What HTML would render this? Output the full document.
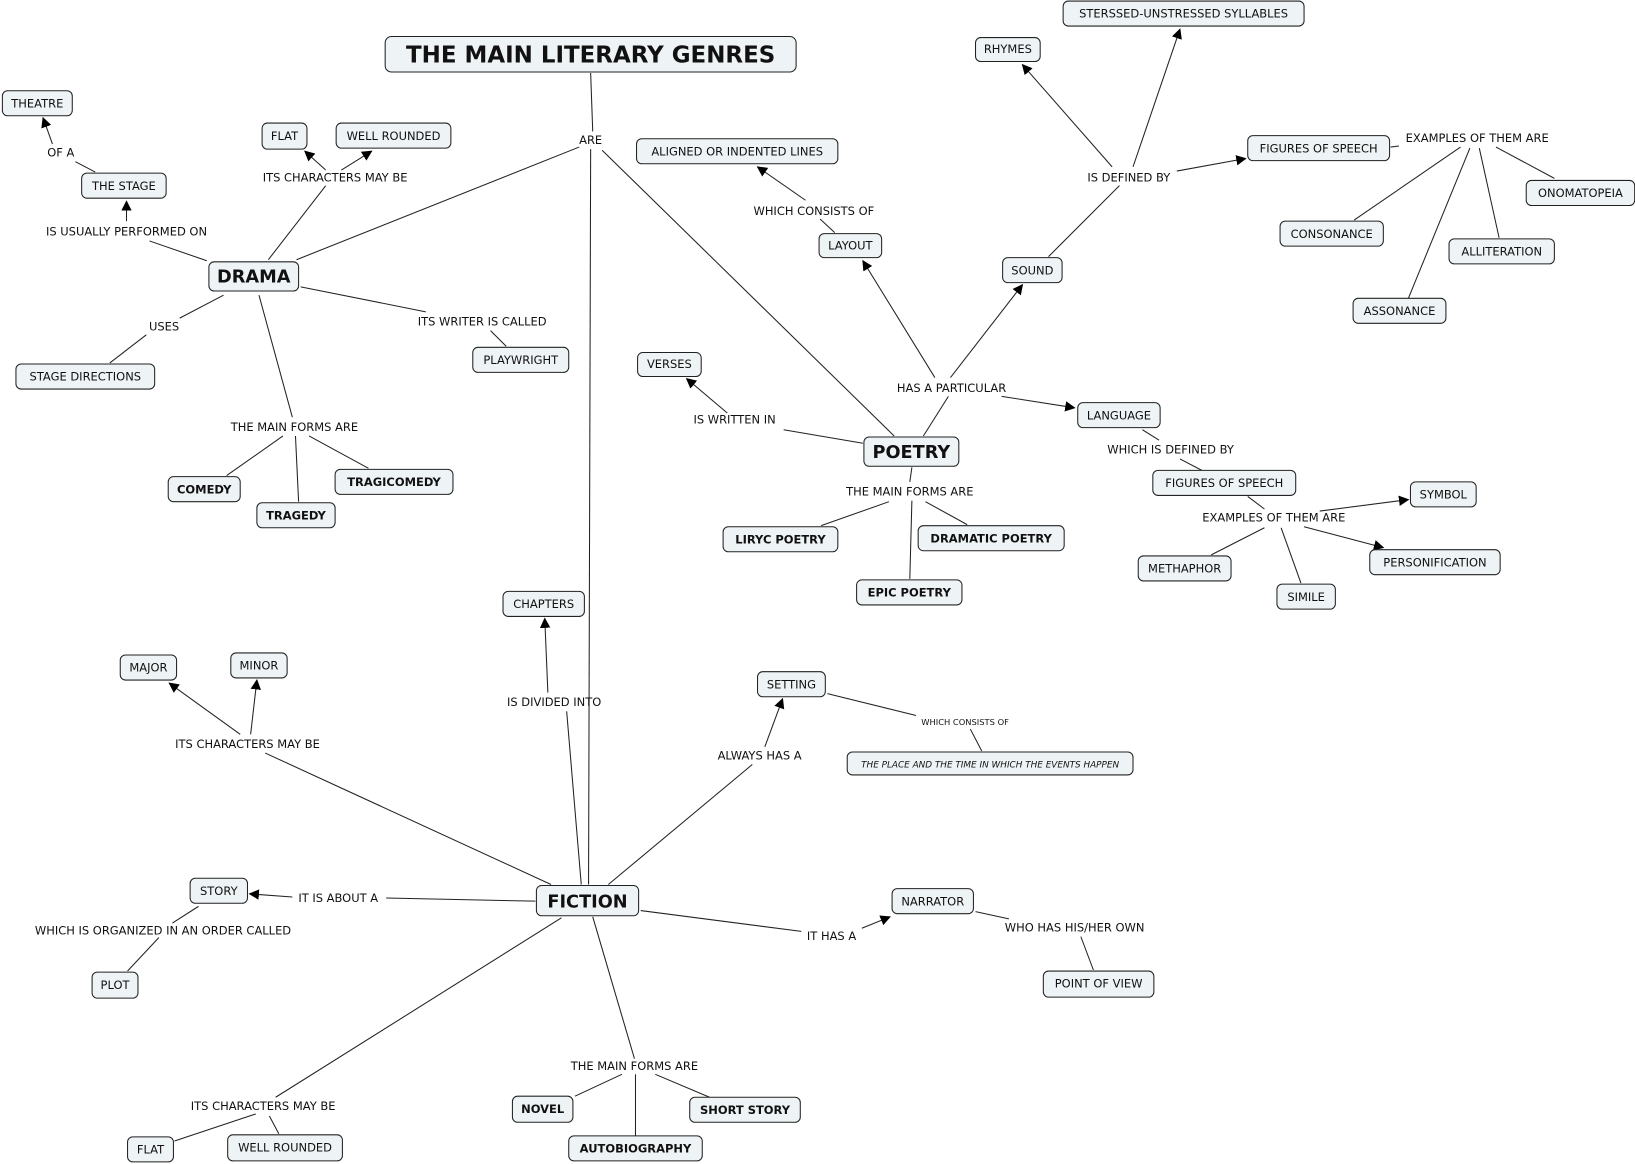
<!DOCTYPE html>
<html><head><meta charset="utf-8"><style>
html,body{margin:0;padding:0;background:#fff;}
svg{display:block;}
text{font-family:"DejaVu Sans","Liberation Sans",sans-serif;font-size:11px;fill:#111;}
.b{font-weight:bold;}
rect{fill:#eef3f5;stroke:#222;stroke-width:1;}
line{stroke:#222;stroke-width:1;}
.a{marker-end:url(#ar);}
</style></head><body>
<svg width="1635" height="1164" viewBox="0 0 1567 1116" xmlns="http://www.w3.org/2000/svg">
<defs><marker id="ar" markerWidth="10" markerHeight="10" refX="9" refY="5" orient="auto" markerUnits="userSpaceOnUse"><path d="M0,0 L10,5 L0,10 z" fill="#000"/></marker></defs>
<g>
<line x1="566" y1="70" x2="568" y2="126"/>
<line x1="555" y1="141" x2="284" y2="249"/>
<line x1="566" y1="143" x2="564" y2="848"/>
<line x1="577" y1="144" x2="857" y2="418"/>
<line x1="198" y1="250" x2="143" y2="231"/>
<line class="a" x1="121" y1="212" x2="121" y2="193"/>
<line x1="91" y1="165" x2="72" y2="155"/>
<line class="a" x1="50" y1="138" x2="41" y2="113"/>
<line x1="257" y1="249" x2="312" y2="178"/>
<line class="a" x1="312" y1="163" x2="292" y2="145"/>
<line class="a" x1="327" y1="163" x2="356" y2="145"/>
<line x1="214" y1="283" x2="172" y2="305"/>
<line x1="140" y1="321" x2="105" y2="348"/>
<line x1="288" y1="275" x2="408" y2="299"/>
<line x1="470" y1="317" x2="485" y2="332"/>
<line x1="248" y1="283" x2="280" y2="400"/>
<line x1="271" y1="418" x2="217" y2="456"/>
<line x1="283" y1="418" x2="286" y2="481"/>
<line x1="296" y1="418" x2="353" y2="449"/>
<line x1="885" y1="418" x2="909" y2="380"/>
<line class="a" x1="896" y1="362" x2="827" y2="250"/>
<line class="a" x1="911" y1="362" x2="980" y2="273"/>
<line class="a" x1="960" y1="380" x2="1030" y2="391"/>
<line x1="800" y1="223" x2="786" y2="210"/>
<line class="a" x1="772" y1="192" x2="726" y2="160"/>
<line x1="1005" y1="246" x2="1073" y2="178"/>
<line class="a" x1="1086" y1="160" x2="1131" y2="28"/>
<line class="a" x1="1066" y1="160" x2="980" y2="62"/>
<line class="a" x1="1128" y1="164" x2="1194" y2="152"/>
<line x1="1333" y1="141" x2="1341" y2="140"/>
<line x1="1400" y1="141" x2="1298" y2="211"/>
<line x1="1409" y1="142" x2="1350" y2="286"/>
<line x1="1418" y1="142" x2="1437" y2="228"/>
<line x1="1434" y1="141" x2="1490" y2="171"/>
<line x1="827" y1="425" x2="751" y2="412"/>
<line class="a" x1="697" y1="396" x2="658" y2="363"/>
<line x1="874" y1="448" x2="872" y2="462"/>
<line x1="852" y1="481" x2="787" y2="504"/>
<line x1="874" y1="480" x2="872" y2="555"/>
<line x1="887" y1="481" x2="927" y2="503"/>
<line x1="1095" y1="412" x2="1111" y2="422"/>
<line x1="1131" y1="440" x2="1152" y2="451"/>
<line x1="1196" y1="476" x2="1212" y2="488"/>
<line x1="1212" y1="506" x2="1161" y2="532"/>
<line x1="1228" y1="506" x2="1247" y2="559"/>
<line class="a" x1="1250" y1="505" x2="1326" y2="525"/>
<line class="a" x1="1265" y1="490" x2="1350" y2="479"/>
<line x1="557" y1="848" x2="543" y2="682"/>
<line class="a" x1="525" y1="664" x2="522" y2="593"/>
<line x1="528" y1="848" x2="254" y2="722"/>
<line class="a" x1="230" y1="704" x2="162" y2="655"/>
<line class="a" x1="240" y1="704" x2="246" y2="652"/>
<line x1="583" y1="848" x2="721" y2="733"/>
<line class="a" x1="733" y1="716" x2="750" y2="670"/>
<line x1="793" y1="665" x2="878" y2="686"/>
<line x1="930" y1="699" x2="941" y2="720"/>
<line x1="513" y1="864" x2="370" y2="861"/>
<line class="a" x1="280" y1="860" x2="239" y2="857"/>
<line x1="190" y1="869" x2="165" y2="885"/>
<line x1="152" y1="899" x2="122" y2="931"/>
<line x1="614" y1="873" x2="768" y2="893"/>
<line class="a" x1="826" y1="890" x2="853" y2="879"/>
<line x1="935" y1="874" x2="967" y2="881"/>
<line x1="1036" y1="898" x2="1048" y2="930"/>
<line x1="568" y1="879" x2="608" y2="1015"/>
<line x1="596" y1="1030" x2="551" y2="1051"/>
<line x1="609" y1="1030" x2="609" y2="1089"/>
<line x1="628" y1="1030" x2="680" y2="1052"/>
<line x1="538" y1="880" x2="264" y2="1052"/>
<line x1="245" y1="1068" x2="167" y2="1094"/>
<line x1="258" y1="1070" x2="267" y2="1087"/>
</g>
<g text-anchor="middle">
<text x="566" y="138">ARE</text>
<text x="58" y="150">OF A</text>
<text x="321" y="174">ITS CHARACTERS MAY BE</text>
<text x="121" y="226">IS USUALLY PERFORMED ON</text>
<text x="157" y="317">USES</text>
<text x="462" y="312">ITS WRITER IS CALLED</text>
<text x="282" y="413">THE MAIN FORMS ARE</text>
<text x="1082" y="174">IS DEFINED BY</text>
<text x="1416" y="136">EXAMPLES OF THEM ARE</text>
<text x="780" y="206">WHICH CONSISTS OF</text>
<text x="912" y="376">HAS A PARTICULAR</text>
<text x="704" y="406">IS WRITTEN IN</text>
<text x="1122" y="435">WHICH IS DEFINED BY</text>
<text x="872" y="475">THE MAIN FORMS ARE</text>
<text x="1221" y="500">EXAMPLES OF THEM ARE</text>
<text x="531" y="677">IS DIVIDED INTO</text>
<text x="237" y="717">ITS CHARACTERS MAY BE</text>
<text x="728" y="728">ALWAYS HAS A</text>
<text x="925" y="695" style="font-size:8px">WHICH CONSISTS OF</text>
<text x="324" y="865">IT IS ABOUT A</text>
<text x="156" y="896">WHICH IS ORGANIZED IN AN ORDER CALLED</text>
<text x="797" y="901">IT HAS A</text>
<text x="1030" y="893">WHO HAS HIS/HER OWN</text>
<text x="608" y="1026">THE MAIN FORMS ARE</text>
<text x="252" y="1064">ITS CHARACTERS MAY BE</text>
</g>
<g text-anchor="middle">
<rect x="369" y="35" width="394" height="34" rx="6"/><text x="566" y="60" class="b" style="font-size:22px">THE MAIN LITERARY GENRES</text>
<rect x="2" y="87" width="67" height="24" rx="5"/><text x="35.5" y="103">THEATRE</text>
<rect x="251" y="118" width="43" height="25" rx="5"/><text x="272.5" y="134">FLAT</text>
<rect x="322" y="118" width="110" height="24" rx="5"/><text x="377" y="134">WELL ROUNDED</text>
<rect x="78" y="166" width="81" height="24" rx="5"/><text x="118.5" y="182">THE STAGE</text>
<rect x="200" y="251" width="86" height="28" rx="5"/><text x="243" y="271" class="b" style="font-size:17px">DRAMA</text>
<rect x="15" y="349" width="133" height="24" rx="5"/><text x="81.5" y="365">STAGE DIRECTIONS</text>
<rect x="453" y="333" width="92" height="24" rx="5"/><text x="499" y="349">PLAYWRIGHT</text>
<rect x="161" y="457" width="69" height="24" rx="5"/><text x="195.5" y="473" class="b">COMEDY</text>
<rect x="246" y="482" width="75" height="24" rx="5"/><text x="283.5" y="498" class="b">TRAGEDY</text>
<rect x="321" y="450" width="113" height="24" rx="5"/><text x="377.5" y="466" class="b">TRAGICOMEDY</text>
<rect x="935" y="36" width="62" height="23" rx="5"/><text x="966" y="51">RHYMES</text>
<rect x="1019" y="1" width="231" height="24" rx="5"/><text x="1134.5" y="17">STERSSED-UNSTRESSED SYLLABLES</text>
<rect x="610" y="133" width="193" height="24" rx="5"/><text x="706.5" y="149">ALIGNED OR INDENTED LINES</text>
<rect x="1196" y="130" width="136" height="24" rx="5"/><text x="1264" y="146">FIGURES OF SPEECH</text>
<rect x="1463" y="173" width="104" height="24" rx="5"/><text x="1515" y="189">ONOMATOPEIA</text>
<rect x="1227" y="212" width="99" height="24" rx="5"/><text x="1276.5" y="228">CONSONANCE</text>
<rect x="1389" y="229" width="101" height="24" rx="5"/><text x="1439.5" y="245">ALLITERATION</text>
<rect x="1297" y="286" width="89" height="24" rx="5"/><text x="1341.5" y="302">ASSONANCE</text>
<rect x="785" y="224" width="60" height="23" rx="5"/><text x="815" y="239">LAYOUT</text>
<rect x="961" y="247" width="57" height="24" rx="5"/><text x="989.5" y="263">SOUND</text>
<rect x="611" y="338" width="61" height="23" rx="5"/><text x="641.5" y="353">VERSES</text>
<rect x="1033" y="386" width="79" height="24" rx="5"/><text x="1072.5" y="402">LANGUAGE</text>
<rect x="828" y="419" width="91" height="28" rx="5"/><text x="873.5" y="439" class="b" style="font-size:17px">POETRY</text>
<rect x="1105" y="451" width="137" height="24" rx="5"/><text x="1173.5" y="467">FIGURES OF SPEECH</text>
<rect x="1352" y="462" width="63" height="24" rx="5"/><text x="1383.5" y="478">SYMBOL</text>
<rect x="693" y="505" width="110" height="24" rx="5"/><text x="748" y="521" class="b">LIRYC POETRY</text>
<rect x="880" y="504" width="140" height="24" rx="5"/><text x="950" y="520" class="b">DRAMATIC POETRY</text>
<rect x="1091" y="533" width="89" height="24" rx="5"/><text x="1135.5" y="549">METHAPHOR</text>
<rect x="1313" y="527" width="125" height="24" rx="5"/><text x="1375.5" y="543">PERSONIFICATION</text>
<rect x="1224" y="560" width="56" height="24" rx="5"/><text x="1252" y="576">SIMILE</text>
<rect x="821" y="556" width="101" height="24" rx="5"/><text x="871.5" y="572" class="b">EPIC POETRY</text>
<rect x="482" y="567" width="78" height="24" rx="5"/><text x="521" y="583">CHAPTERS</text>
<rect x="115" y="628" width="54" height="24" rx="5"/><text x="142" y="644">MAJOR</text>
<rect x="221" y="626" width="54" height="24" rx="5"/><text x="248" y="642">MINOR</text>
<rect x="726" y="644" width="65" height="24" rx="5"/><text x="758.5" y="660">SETTING</text>
<rect x="812" y="721" width="274" height="22" rx="5"/><text x="949" y="736" style="font-size:8.5px;font-style:italic">THE PLACE AND THE TIME IN WHICH THE EVENTS HAPPEN</text>
<rect x="514" y="849" width="98" height="29" rx="5"/><text x="563" y="870" class="b" style="font-size:17px">FICTION</text>
<rect x="182" y="842" width="55" height="24" rx="5"/><text x="209.5" y="858">STORY</text>
<rect x="855" y="852" width="78" height="24" rx="5"/><text x="894" y="868">NARRATOR</text>
<rect x="88" y="932" width="44" height="25" rx="5"/><text x="110" y="948">PLOT</text>
<rect x="1000" y="931" width="106" height="25" rx="5"/><text x="1053" y="947">POINT OF VIEW</text>
<rect x="491" y="1051" width="58" height="25" rx="5"/><text x="520" y="1067" class="b">NOVEL</text>
<rect x="661" y="1052" width="106" height="24" rx="5"/><text x="714" y="1068" class="b">SHORT STORY</text>
<rect x="545" y="1089" width="128" height="24" rx="5"/><text x="609" y="1105" class="b">AUTOBIOGRAPHY</text>
<rect x="122" y="1090" width="44" height="24" rx="5"/><text x="144" y="1106">FLAT</text>
<rect x="218" y="1088" width="110" height="25" rx="5"/><text x="273" y="1104">WELL ROUNDED</text>
</g>
</svg>
</body></html>
